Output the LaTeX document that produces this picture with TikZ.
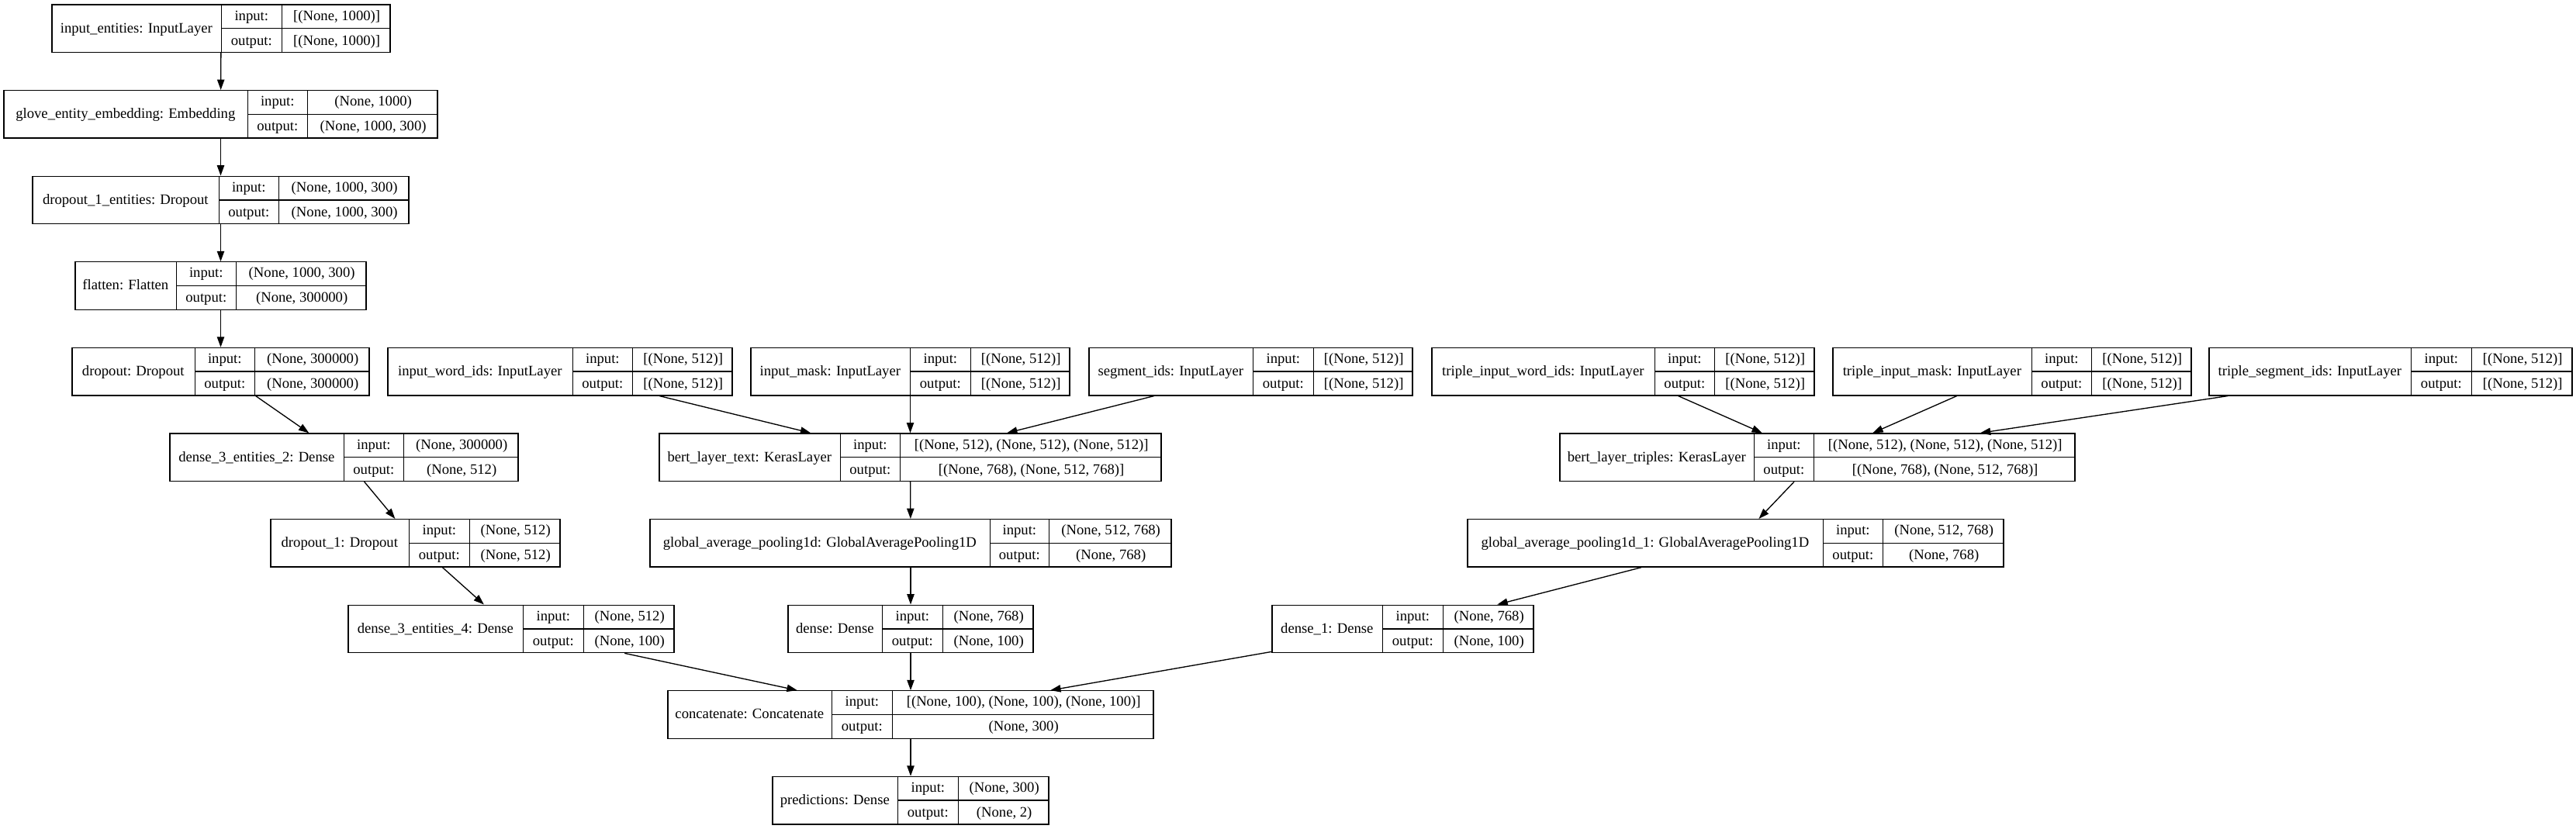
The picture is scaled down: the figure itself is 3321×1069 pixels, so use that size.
\documentclass[tikz,border=0pt]{standalone}
\usepackage{fontspec}
\setmainfont{Liberation Serif}
\usepackage{tikz}
\usetikzlibrary{arrows.meta,calc}

% one keras layer: name, left, top, width of the three columns, title, input, output
\newcommand{\layer}[9]{%
  \node[layerbox,minimum width={(#4+#5+#6)*0.75pt}] (#1) at ({#2+(#4+#5+#6)/2},{#3+30.75}) {};
  \draw ($(#1.north west)+(#4,0)$) -- ($(#1.south west)+(#4,0)$)
        ($(#1.north west)+(#4+#5,0)$) -- ($(#1.south west)+(#4+#5,0)$)
        ($(#1.west)+(#4,0)$) -- (#1.east);
  \node (#1-title) at ($(#1.west)+(#4/2,0)$) {#7};
  \node (#1-inlabel) at ($(#1.north west)+(#4+#5/2,15.4)$) {input:};
  \node (#1-outlabel) at ($(#1.south west)+(#4+#5/2,-15.4)$) {output:};
  \node (#1-in) at ($(#1.north east)+(-#6/2,15.4)$) {#8};
  \node (#1-out) at ($(#1.south east)+(-#6/2,-15.4)$) {#9};
}

\begin{document}
\begin{tikzpicture}[x=0.75pt,y=-0.75pt,line width=1pt,
      >={Triangle[length=10pt,width=7pt]},
      every node/.style={font=\fontsize{14}{16}\selectfont,inner sep=0pt,
        text height=11pt,text depth=3pt},
      layerbox/.style={draw,minimum height=61.5*0.75pt}]

      \useasboundingbox (0,0) rectangle (3321,1069);

      % entities branch
      \layer{entities}{67}{6}{219}{78}{139}{input\_entities: InputLayer}{[(None, 1000)]}{[(None, 1000)]}
      \layer{glove}{5}{116.6}{315}{77}{167}{glove\_entity\_embedding: Embedding}{(None, 1000)}{(None, 1000, 300)}
      \layer{dropentities}{42}{227.2}{241}{77}{167}{dropout\_1\_entities: Dropout}{(None, 1000, 300)}{(None, 1000, 300)}
      \layer{flatten}{97}{337.8}{131}{77}{167}{flatten: Flatten}{(None, 1000, 300)}{(None, 300000)}
      \layer{dropout}{93}{448.4}{159}{77}{147}{dropout: Dropout}{(None, 300000)}{(None, 300000)}
      \layer{densetwo}{219}{559}{225}{77}{147}{dense\_3\_entities\_2: Dense}{(None, 300000)}{(None, 512)}
      \layer{dropone}{349}{669.6}{179}{78}{116}{dropout\_1: Dropout}{(None, 512)}{(None, 512)}
      \layer{densefour}{449}{780.2}{226}{78}{116}{dense\_3\_entities\_4: Dense}{(None, 512)}{(None, 100)}

      % text branch
      \layer{wordids}{500}{448.4}{239}{77}{128}{input\_word\_ids: InputLayer}{[(None, 512)]}{[(None, 512)]}
      \layer{mask}{968}{448.4}{206}{78}{127}{input\_mask: InputLayer}{[(None, 512)]}{[(None, 512)]}
      \layer{segids}{1404}{448.4}{212}{78}{127}{segment\_ids: InputLayer}{[(None, 512)]}{[(None, 512)]}
      \layer{berttext}{850}{559}{234}{77}{336}{bert\_layer\_text: KerasLayer}{[(None, 512), (None, 512), (None, 512)]}{[(None, 768), (None, 512, 768)]}
      \layer{pooltext}{838}{669.6}{439}{76}{157}{global\_average\_pooling1d: GlobalAveragePooling1D}{(None, 512, 768)}{(None, 768)}
      \layer{densetext}{1016}{780.2}{122}{78}{116}{dense: Dense}{(None, 768)}{(None, 100)}

      % triples branch
      \layer{twordids}{1846}{448.4}{288}{77}{128}{triple\_input\_word\_ids: InputLayer}{[(None, 512)]}{[(None, 512)]}
      \layer{tmask}{2363}{448.4}{257}{77}{128}{triple\_input\_mask: InputLayer}{[(None, 512)]}{[(None, 512)]}
      \layer{tsegids}{2848}{448.4}{261}{78}{129}{triple\_segment\_ids: InputLayer}{[(None, 512)]}{[(None, 512)]}
      \layer{berttriples}{2011}{559}{251}{77}{336}{bert\_layer\_triples: KerasLayer}{[(None, 512), (None, 512), (None, 512)]}{[(None, 768), (None, 512, 768)]}
      \layer{pooltriples}{1892}{669.6}{459}{77}{155}{global\_average\_pooling1d\_1: GlobalAveragePooling1D}{(None, 512, 768)}{(None, 768)}
      \layer{densetriples}{1640}{780.2}{143}{78}{116}{dense\_1: Dense}{(None, 768)}{(None, 100)}

      % head
      \layer{concat}{861}{890.8}{212}{78}{336}{concatenate: Concatenate}{[(None, 100), (None, 100), (None, 100)]}{(None, 300)}
      \layer{predictions}{996}{1001.4}{162}{78}{116}{predictions: Dense}{(None, 300)}{(None, 2)}

      \path[->]
      (entities) edge (glove)
      (glove) edge (dropentities)
      (dropentities) edge (flatten)
      (flatten) edge (dropout)
      (dropout) edge (densetwo)
      (densetwo) edge (dropone)
      (dropone) edge (densefour)
      (wordids) edge (berttext)
      (mask) edge (berttext)
      (segids) edge (berttext)
      (berttext) edge (pooltext)
      (pooltext) edge (densetext)
      (twordids) edge (berttriples)
      (tmask) edge (berttriples)
      (tsegids) edge (berttriples)
      (berttriples) edge (pooltriples)
      (pooltriples) edge (densetriples)
      (densefour) edge (concat)
      (densetext) edge (concat)
      (densetriples) edge (concat)
      (concat) edge (predictions);
    \end{tikzpicture}
\end{document}
